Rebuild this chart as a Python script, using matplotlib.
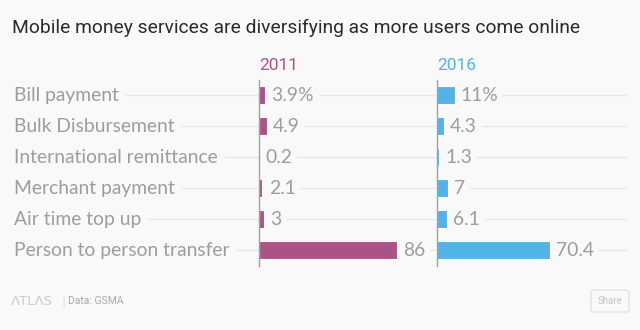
import matplotlib
matplotlib.use("Agg")
from matplotlib import pyplot as plt
from matplotlib.patches import FancyBboxPatch

categories = ["Bill payment", "Bulk Disbursement", "International remittance",
              "Merchant payment", "Air time top up", "Person to person transfer"]
share_2011 = [3.9, 4.9, 0.2, 2.1, 3, 86]
share_2016 = [11, 4.3, 1.3, 7, 6.1, 70.4]
labels_2011 = ["3.9%", "4.9", "0.2", "2.1", "3", "86"]
labels_2016 = ["11%", "4.3", "1.3", "7", "6.1", "70.4"]

BG = "#f9f9f9"
C2011 = "#ab5385"
C2016 = "#53b3e6"
GRAY = "#9d9d9d"
LABEL_FONT = ["Lato", "DejaVu Sans"]
HEAD_FONT = ["Roboto", "DejaVu Sans"]
W, H = 640, 330
PX = 1.6  # pixels per percentage point

fig = plt.figure(figsize=(6.4, 3.3), dpi=100, facecolor=BG)

def box(x0, y0, x1, y1):
    # pixel box (from top-left) -> figure fraction
    return [x0 / W, 1 - y1 / H, (x1 - x0) / W, (y1 - y0) / H]

rows = list(range(len(categories)))
ylim = (5.516, -0.484)
top, bottom = 80, 266

# background axes: gridlines + category labels
bg = fig.add_axes(box(14, top, 627, bottom))
bg.set_xlim(0, 1)
bg.set_ylim(*ylim)
bg.axis("off")
for r, name in zip(rows, categories):
    bg.axhline(r, color="#e8e8e8", lw=1, zorder=0)
    bg.text(0, r, name, ha="left", va="center", fontsize=13.9, color=GRAY,
            family=LABEL_FONT,
            bbox=dict(boxstyle="square,pad=0.35", fc=BG, ec="none"))

def panel(x0, width, values, labels, color, year):
    ax = fig.add_axes(box(x0, top, x0 + width, bottom))
    ax.patch.set_alpha(0)
    ax.set_xlim(0, width / PX)
    ax.set_ylim(*ylim)
    ax.barh(rows, values, height=0.56, color=color, edgecolor="white", lw=0.8)
    for r, v, t in zip(rows, values, labels):
        ax.annotate(t, (v, r), xytext=(4.5, 0), textcoords="offset points",
                    ha="left", va="center", fontsize=13.9, color=GRAY,
                    family=LABEL_FONT,
                    bbox=dict(boxstyle="square,pad=0.25", fc=BG, ec="none"))
    for s in ["top", "right", "bottom"]:
        ax.spines[s].set_visible(False)
    ax.spines["left"].set_color("#a0a0a0")
    ax.spines["left"].set_linewidth(1)
    ax.set_xticks([])
    ax.set_yticks([])
    fig.text(x0 / W, 1 - 70 / H, year, ha="left", va="baseline", fontsize=12.5,
             color=color, family=HEAD_FONT)
    return ax

panel(259, 170, share_2011, labels_2011, C2011, "2011")
panel(437, 185, share_2016, labels_2016, C2016, "2016")

fig.text(12 / W, 1 - 33 / H, "Mobile money services are diversifying as more users come online",
         ha="left", va="baseline", fontsize=13.85, color="#2a2a2a",
         family=HEAD_FONT)

# footer
fig.text(11 / W, 1 - 305 / H, "ΛTLΛS", ha="left", va="baseline", fontsize=9.5,
         color="#cccccc", family="DejaVu Sans")
fig.text(61 / W, 1 - 305 / H, "|", ha="left", va="baseline", fontsize=9,
         color="#dddddd")
fig.text(68 / W, 1 - 304 / H, "Data: GSMA", ha="left", va="baseline", fontsize=7.5,
         color="#aaaaaa", family=HEAD_FONT)
fig.patches.append(FancyBboxPatch((591 / W, 1 - 312 / H), 38 / W, 22 / H,
                                  boxstyle="round,pad=0,rounding_size=0.006",
                                  transform=fig.transFigure, fc=BG,
                                  ec="#e4e4e4", lw=1))
fig.text(610 / W, 1 - 301 / H, "Share", ha="center", va="center", fontsize=7,
         color="#c4c4c4", family=HEAD_FONT)

fig.savefig("out.png", dpi=100, facecolor=BG)
